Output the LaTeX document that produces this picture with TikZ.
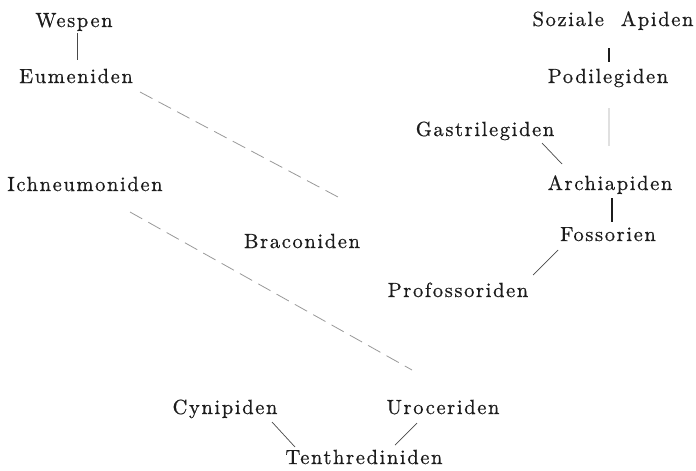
\documentclass[tikz,border=0pt]{standalone}
\usepackage{fontspec}
\newfontfamily\oldfont{lmroman10-regular.otf}[LetterSpace=8,FakeBold=0.6]
\definecolor{ink}{HTML}{1C1C1C}
\tikzset{
  taxon/.style={anchor=base, inner sep=0pt, text=ink, font=\fontsize{20.5}{24}\selectfont\oldfont},
  link/.style={draw=ink!80, line width=0.7pt},
  boldlink/.style={draw=ink, line width=1.5pt},
  faint/.style={draw=black!40, line width=0.8pt, dash pattern=on 14pt off 7pt},
  ghost/.style={draw=black!12, line width=1.2pt}
}
\begin{document}
\begin{tikzpicture}[x=1pt, y=-1pt]
\useasboundingbox[fill=white] (0,0) rectangle (696,471);
% nodes (base positions)
\node[taxon] (wes) at (74,27) {Wespen};
\node[taxon] (eum) at (76,83) {Eumeniden};
\node[taxon] (ich) at (85,191) {Ichneumoniden};
\node[taxon] (bra) at (302,248) {Braconiden};
\node[taxon] (soz) at (613,26) {Soziale\ \ Apiden};
\node[taxon] (pod) at (608,83) {Podilegiden};
\node[taxon] (gas) at (485,136) {Gastrilegiden};
\node[taxon] (arc) at (610,190) {Archiapiden};
\node[taxon] (fos) at (608,241) {Fossorien};
\node[taxon] (pro) at (458,297) {Profossoriden};
\node[taxon] (cyn) at (225,414) {Cynipiden};
\node[taxon] (uro) at (443,414) {Uroceriden};
\node[taxon] (ten) at (364,464) {Tenthrediniden};
\coordinate (eumEnd) at (338,197);
\coordinate (ichEnd) at (412,370);
% connectors
\draw[link] ([shift={(3,6)}]wes.base) -- ([shift={(1,-23)}]eum.base);
\draw[boldlink] ([shift={(-4,22)}]soz.base) -- ([shift={(1,-21)}]pod.base);
\draw[ghost] ([shift={(1,25)}]pod.base) -- ([shift={(-1,-44)}]arc.base);
\draw[link] ([shift={(57,7)}]gas.base) -- ([shift={(-48,-26)}]arc.base);
\draw[boldlink] ([shift={(2,8)}]arc.base) -- ([shift={(4,-19)}]fos.base);
\draw[link] ([shift={(-50,9)}]fos.base) -- ([shift={(75,-22)}]pro.base);
\draw[link] ([shift={(47,8)}]cyn.base) -- ([shift={(-69,-17)}]ten.base);
\draw[link] ([shift={(-26,9)}]uro.base) -- ([shift={(31,-19)}]ten.base);
\draw[faint] ([shift={(64,9)}]eum.base) -- (eumEnd);
\draw[faint] ([shift={(45,21)}]ich.base) -- (ichEnd);
\end{tikzpicture}
\end{document}
